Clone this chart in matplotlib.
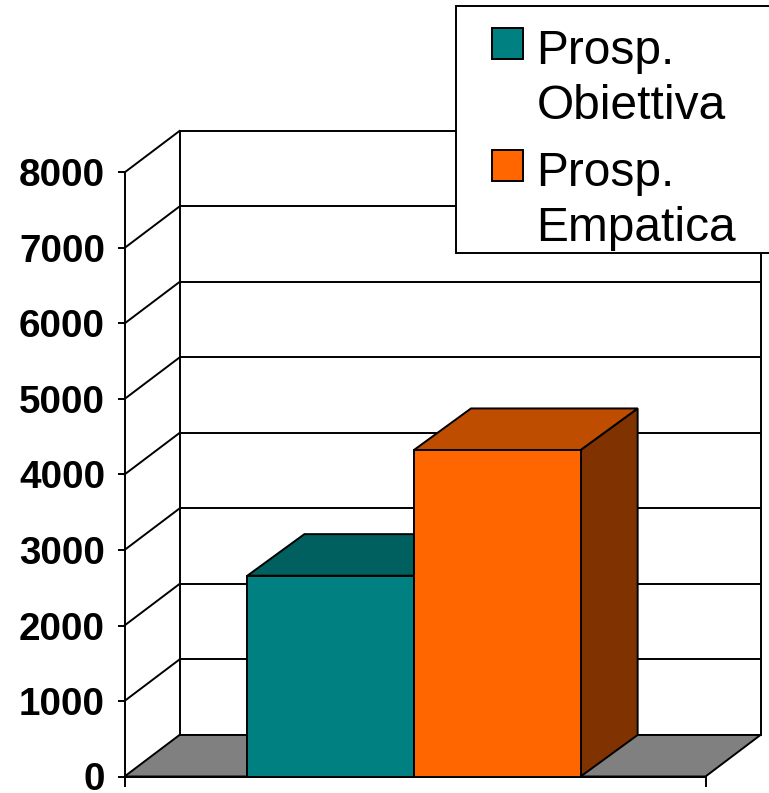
import matplotlib
matplotlib.use('Agg')

import matplotlib.pyplot as plt
from matplotlib.patches import Polygon, Rectangle

# Dati del grafico
categorie = ['Prosp.\nObiettiva', 'Prosp.\nEmpatica']
valori = [2660, 4325]
colori_fronte = ['#008080', '#FF6600']
colori_sopra = ['#006060', '#BF4D00']
colori_lato = ['#004040', '#803300']
tacche_y = [0, 1000, 2000, 3000, 4000, 5000, 6000, 7000, 8000]

# Profondita' della scena 3D, in unita' degli assi
prof_x = 55 / 581
prof_y = 550
prof_barra_x = 57 / 581
larghezza = 0.2868
inizio = 0.2115
lw = 1.4

plt.rcParams['font.family'] = ['Liberation Sans', 'DejaVu Sans']

W, H = 769, 793
fig = plt.figure(figsize=(W / 100, H / 100), dpi=100)
ax = fig.add_axes([124.5 / W, 1 - 776.5 / H, 581 / W, 604 / H])
ax.set_xlim(0, 1)
ax.set_ylim(0, 8000)
ax.patch.set_visible(False)


def poligono(punti, colore, z):
    ax.add_patch(Polygon(punti, closed=True, facecolor=colore, edgecolor='black',
                         lw=lw, joinstyle='miter', clip_on=False, zorder=z))


# Pavimento grigio
poligono([(0, 0), (1, 0), (1 + prof_x, prof_y), (prof_x, prof_y)], '#808080', 1.5)

# Griglia su parete di fondo e parete sinistra
for t in tacche_y:
    if t > 0:
        ax.plot([prof_x, 1 + prof_x], [t + prof_y, t + prof_y], color='black', lw=lw,
                clip_on=False, zorder=1, solid_capstyle='butt')
        ax.plot([0, prof_x], [t, t + prof_y], color='black', lw=lw, clip_on=False, zorder=1)
ax.plot([prof_x, prof_x], [prof_y, 8000 + prof_y], color='black', lw=lw, clip_on=False, zorder=1)
ax.plot([1 + prof_x, 1 + prof_x], [prof_y, 8000 + prof_y], color='black', lw=lw, clip_on=False, zorder=1)

# Barre 3D: lato, sopra e fronte
for i, v in enumerate(valori):
    x0 = inizio + i * larghezza
    x1 = x0 + larghezza
    poligono([(x1, 0), (x1 + prof_barra_x, prof_y), (x1 + prof_barra_x, v + prof_y), (x1, v)],
             colori_lato[i], 3 + i)
    poligono([(x0, v), (x1, v), (x1 + prof_barra_x, v + prof_y), (x0 + prof_barra_x, v + prof_y)],
             colori_sopra[i], 3 + i)
    poligono([(x0, 0), (x1, 0), (x1, v), (x0, v)], colori_fronte[i], 3 + i)

# Assi
for s in ['top', 'right']:
    ax.spines[s].set_visible(False)
ax.spines['left'].set_linewidth(lw)
ax.spines['bottom'].set_linewidth(lw)
ax.set_yticks(tacche_y)
ax.set_yticklabels([str(t) for t in tacche_y], fontsize=27.8, fontweight='bold')
ax.tick_params(axis='y', length=5, width=lw, pad=9)
ax.set_xticks([0, 1])
ax.set_xticklabels([])
ax.tick_params(axis='x', length=7.2, width=lw)

# Legenda disegnata a mano: il quadratino sta sulla prima riga del testo
sx, st, sb = 456 / W, 1 - 6 / H, 1 - 253 / H
fig.add_artist(Rectangle((sx, sb), 1.0 - sx + 0.01, st - sb, transform=fig.transFigure,
                         facecolor='white', edgecolor='black', lw=lw, zorder=10))
pos_y = [28, 150]
for nome, colore, y in zip(categorie, colori_fronte, pos_y):
    fig.add_artist(Rectangle((492 / W, 1 - (y + 31) / H), 31 / W, 31 / H, transform=fig.transFigure,
                             facecolor=colore, edgecolor='black', lw=lw, zorder=11))
    fig.text(536.5 / W, 1 - (y + 1) / H, nome, fontsize=34.5, va='top', ha='left',
             linespacing=1.29, zorder=11)

fig.savefig('out.png', dpi=100)
